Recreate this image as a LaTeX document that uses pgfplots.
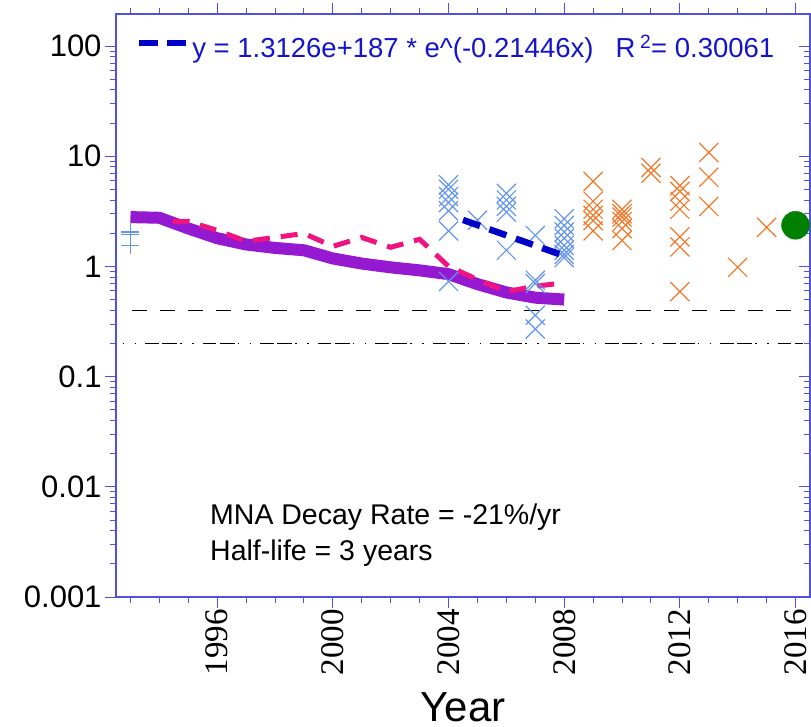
\documentclass[border=0pt]{standalone}
\usepackage{pgfplots}
\pgfplotsset{compat=1.18}
\usepackage{fontspec}
\setmainfont{Liberation Sans}
\newfontfamily\timesfont{Liberation Serif}

\definecolor{axisblue}{RGB}{80,80,225}
\definecolor{fitblue}{RGB}{0,0,200}
\definecolor{txtblue}{RGB}{20,20,205}
\definecolor{mnapurple}{RGB}{150,25,210}
\definecolor{mnapink}{RGB}{240,20,130}
\definecolor{ptblue}{RGB}{100,150,240}
\definecolor{ptorange}{RGB}{245,120,40}
\definecolor{ptgreen}{RGB}{0,128,0}

\begin{document}
\begin{tikzpicture}
\useasboundingbox (-116pt,-130pt) rectangle (695pt,597pt);

% right-hand axis with inward ticks
\begin{axis}[
  scale only axis, width=694pt, height=583pt,
  xmin=1992.5, xmax=2016.5,
  ymode=log, ymin=0.001, ymax=195,
  axis line style={axisblue, line width=1.2pt},
  every tick/.style={axisblue, line width=0.9pt},
  major tick length=11pt, minor tick length=6pt,
  ytick={0.001,0.01,0.1,1,10,100},
  minor ytick={0.002,0.003,0.004,0.005,0.006,0.007,0.008,0.009,
               0.02,0.03,0.04,0.05,0.06,0.07,0.08,0.09,
               0.2,0.3,0.4,0.5,0.6,0.7,0.8,0.9,
               2,3,4,5,6,7,8,9,
               20,30,40,50,60,70,80,90},
  hide x axis, axis y line*=right, tick align=inside,
  yticklabels={}]
\end{axis}

\begin{axis}[
  scale only axis, width=694pt, height=583pt,
  xmin=1992.5, xmax=2016.5,
  ymode=log, ymin=0.001, ymax=195,
  axis line style={axisblue, line width=1.2pt},
  every tick/.style={axisblue, line width=0.9pt},
  major tick length=11pt, minor tick length=6pt,
  ytick={0.001,0.01,0.1,1,10,100},
  minor ytick={0.002,0.003,0.004,0.005,0.006,0.007,0.008,0.009,
               0.02,0.03,0.04,0.05,0.06,0.07,0.08,0.09,
               0.2,0.3,0.4,0.5,0.6,0.7,0.8,0.9,
               2,3,4,5,6,7,8,9,
               20,30,40,50,60,70,80,90},
  clip mode=individual,
  tick align=outside,
  xtick pos=both, xticklabel pos=lower,
  ytick pos=left,
  xtick={1996,2000,2004,2008,2012,2016},
  xticklabel={\timesfont\fontsize{33}{33}\selectfont
    \pgfmathprintnumber[assume math mode=true, fixed, precision=0, 1000 sep={}]{\tick}},
  minor xtick={1993,1994,...,2016},
  yticklabels={0.001,0.01,0.1,1,10,100},
  yticklabel style={font=\fontsize{31}{31}\selectfont, text=black},
  xticklabel style={text=black, rotate=90, anchor=east, inner sep=1pt},
  legend style={at={(rel axis cs:0.029,0.968)}, anchor=north west,
                draw=none, fill=none, inner sep=0pt,
                font=\fontsize{27.5}{27.5}\selectfont, text=txtblue},
  legend image code/.code={%
    \draw[fitblue, line width=6pt, dash pattern=on 19pt off 9pt]
      (0pt,4pt) -- (48pt,4pt);},
  legend cell align=left,
]

% reference levels
\addplot[black, line width=1.2pt, dash pattern=on 15pt off 13pt, forget plot]
  coordinates {(1993.07,0.4) (2016,0.4)};
\addplot[black, line width=1.2pt,
  dash pattern=on 1.5pt off 10.5pt on 1.5pt off 9pt on 13.5pt off 3.5pt on 15pt off 3pt,
  forget plot]
  coordinates {(1992.73,0.2) (2016.27,0.2)};

% MNA trend curves
\addplot[mnapurple, line width=12pt, line join=round, forget plot] coordinates {
  (1993,2.80) (1994,2.76) (1995,2.21) (1996,1.80) (1997,1.58) (1998,1.47)
  (1999,1.40) (2000,1.18) (2001,1.06) (2002,0.98) (2003,0.92) (2004,0.85)
  (2005,0.69) (2006,0.58) (2007,0.52) (2008,0.50)};
\addplot[mnapink, line width=5pt, dash pattern=on 17pt off 11pt, forget plot] coordinates {
  (1994.45,2.56) (1995,2.56) (1996,2.12) (1997,1.69) (1998,1.83) (1999,1.99)
  (2000,1.52) (2001,1.83) (2002,1.49) (2003,1.76) (2004,1.00) (2005,0.76)
  (2006,0.59) (2007,0.66) (2008,0.71)};

% measured concentrations
\addplot[only marks, mark=+, mark size=9pt, ptblue, line width=1.2pt, forget plot]
  coordinates {(1993,2.05) (1993,1.95) (1993,1.55)};
\addplot[only marks, mark=x, mark size=13.5pt, ptblue, line width=1.2pt, forget plot]
  coordinates {
  (2004,5.5) (2004,5.0) (2004,4.3) (2004,3.8) (2004,3.2) (2004,2.1) (2004,0.73)
  (2005,2.62)
  (2006,4.6) (2006,4.0) (2006,3.5) (2006,3.1) (2006,1.4)
  (2007,1.91) (2007,0.75) (2007,0.70) (2007,0.36) (2007,0.27)
  (2008,2.7) (2008,2.35) (2008,2.05) (2008,1.8) (2008,1.55) (2008,1.4) (2008,1.28) (2008,1.2)};
\addplot[only marks, mark=x, mark size=13.5pt, ptorange, line width=1.2pt, forget plot]
  coordinates {
  (2009,5.9) (2009,3.9) (2009,3.3) (2009,2.9) (2009,2.6) (2009,2.1)
  (2010,3.3) (2010,3.0) (2010,2.8) (2010,2.55) (2010,2.2) (2010,1.72)
  (2011,7.9) (2011,7.0)
  (2012,5.4) (2012,4.8) (2012,3.9) (2012,3.3) (2012,1.85) (2012,1.5) (2012,0.59)
  (2013,10.8) (2013,6.45) (2013,3.5)
  (2014,0.98) (2015,2.26)};
\addplot[only marks, mark=*, mark size=14pt, ptgreen, forget plot]
  coordinates {(2016,2.36)};

% exponential fit
\addplot[fitblue, line width=6.5pt, dash pattern=on 18pt off 10pt] coordinates {
  (2004.5,2.639) (2005,2.371) (2006,1.913) (2007,1.544) (2008,1.246)};
\addlegendentry{y = 1.3126e+187 * e\textasciicircum(-0.21446x)\hspace{22pt}R\,\textsuperscript{2}= 0.30061}

% annotations
\node[anchor=base west, inner sep=0pt, font=\fontsize{28.5}{28.5}\selectfont]
  at (rel axis cs:0,0) [xshift=94pt, yshift=73pt] {MNA Decay Rate = -21\%/yr};
\node[anchor=base west, inner sep=0pt, font=\fontsize{28.5}{28.5}\selectfont]
  at (rel axis cs:0,0) [xshift=94pt, yshift=37pt] {Half-life = 3 years};
\node[anchor=base, inner sep=0pt, font=\fontsize{42}{42}\selectfont]
  at (rel axis cs:0.5,0) [yshift=-124pt] {Year};
\end{axis}
\end{tikzpicture}
\end{document}
